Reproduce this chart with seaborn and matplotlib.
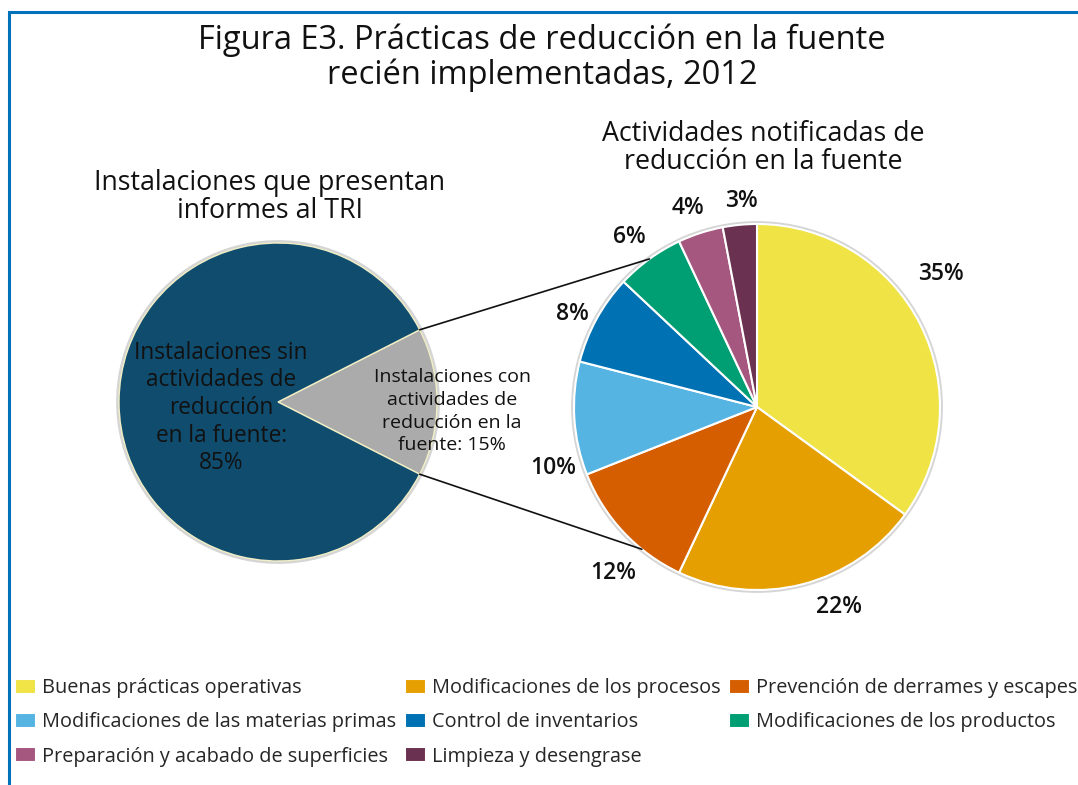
import numpy as np
import matplotlib.pyplot as plt
from matplotlib.patches import Circle
import seaborn as sns

# ---- datos ----
titulo = "Figura E3. Prácticas de reducción en la fuente\nrecién implementadas, 2012"
sub_izq = "Instalaciones que presentan\ninformes al TRI"
sub_der = "Actividades notificadas de\nreducción en la fuente"

inst_labels = ["Instalaciones con\nactividades de\nreducción en la\nfuente: 15%",
               "Instalaciones sin\nactividades de\nreducción\nen la fuente:\n85%"]
inst_values = [15, 85]
inst_colors = ["#ababab", "#0f4c6e"]

act_labels = ["Buenas prácticas operativas",
              "Modificaciones de los procesos",
              "Prevención de derrames y escapes",
              "Modificaciones de las materias primas",
              "Control de inventarios",
              "Modificaciones de los productos",
              "Preparación y acabado de superficies",
              "Limpieza y desengrase"]
act_values = [35, 22, 12, 10, 8, 6, 4, 3]
act_colors = ["#efe345", "#e59f00", "#d45e00", "#56b4e3",
              "#0071b2", "#009e73", "#a5577f", "#6a3150"]

sns.set_theme(style="white")
plt.rcParams['font.family'] = ['Open Sans', 'DejaVu Sans']

W, H = 1078, 785
fig = plt.figure(figsize=(W / 100, H / 100), dpi=100)
ax = fig.add_axes([0, 0, 1, 1])


def polar(c, r, ang):
    a = np.deg2rad(ang)
    return c[0] + r * np.cos(a), c[1] + r * np.sin(a)


# pie izquierdo (instalaciones)
c1, r1 = (278, 383), 159
ax.add_patch(Circle(c1, r1 + 1.5, facecolor='none', edgecolor='#d5d5d5', lw=2, zorder=0))
w1, _ = ax.pie(inst_values, colors=inst_colors, startangle=-27, center=c1, radius=r1,
               wedgeprops=dict(edgecolor='#f2eec4', linewidth=1))
# posicion de etiquetas: (distancia relativa, desplazamiento angular)
inst_pos = [(1.096, -3), (0.36, 6)]
sizes = [14, 16.3]
spacing = [1.35, 1.2]
for w, lab, (d, da), fs, ls in zip(w1, inst_labels, inst_pos, sizes, spacing):
    x, y = polar(c1, d * r1, (w.theta1 + w.theta2) / 2 + da)
    ax.text(x, y, lab, ha='center', va='center', fontsize=fs, linespacing=ls, color='#111111')

# pie derecho (actividades)
c2, r2 = (757, 378), 183
ax.add_patch(Circle(c2, r2 + 1.5, facecolor='none', edgecolor='#d5d5d5', lw=2, zorder=0))
w2, _ = ax.pie(act_values, colors=act_colors, startangle=90, counterclock=False,
               center=c2, radius=r2, wedgeprops=dict(edgecolor='white', linewidth=1.5))
pct_pos = [(1.24, 9), (1.18, 8), (1.2, 6), (1.16, 13), (1.13, 2), (1.16, 1), (1.15, 1), (1.13, -1)]
for w, v, (d, da) in zip(w2, act_values, pct_pos):
    x, y = polar(c2, d * r2, (w.theta1 + w.theta2) / 2 + da)
    ax.text(x, y, f"{v}%", ha='center', va='center', fontsize=16.5,
            fontweight='semibold', color='#111111')

# lineas de conexion
g = w1[0]
for a1, a2 in [(g.theta2, 126), (g.theta1, -129)]:
    p1 = polar(c1, r1, a1)
    p2 = polar(c2, r2, a2)
    ax.plot([p1[0], p2[0]], [p1[1], p2[1]], color='#111111', lw=1.2, zorder=5)

# textos
ax.text(542, H - 58, titulo, ha='center', va='center', fontsize=23.5, linespacing=1.05, color='#111111')
ax.text(270, H - 197, sub_izq, ha='center', va='center', fontsize=19.3, linespacing=0.97, color='#111111')
ax.text(763, H - 148, sub_der, ha='center', va='center', fontsize=19.3, linespacing=0.97, color='#111111')

# borde azul
ax.plot([9, 9, W], [0, H - 12, H - 12], color='#0072bc', lw=2.2, solid_joinstyle='miter')

ax.set_xlim(0, W)
ax.set_ylim(0, H)
ax.set_aspect('auto')
ax.axis('off')

# leyenda (filas como en el original)
order = [0, 3, 6, 1, 4, 7, 2, 5]
fig.legend([w2[i] for i in order], [act_labels[i] for i in order], ncol=3,
           loc='upper left', bbox_to_anchor=(15 / W, 1 - 678 / H), frameon=False,
           fontsize=14.3, handlelength=1.05, handleheight=0.8, handletextpad=0.3,
           columnspacing=0.45, labelspacing=0.72, borderpad=0, borderaxespad=0)

fig.savefig('out.png', dpi=100)
